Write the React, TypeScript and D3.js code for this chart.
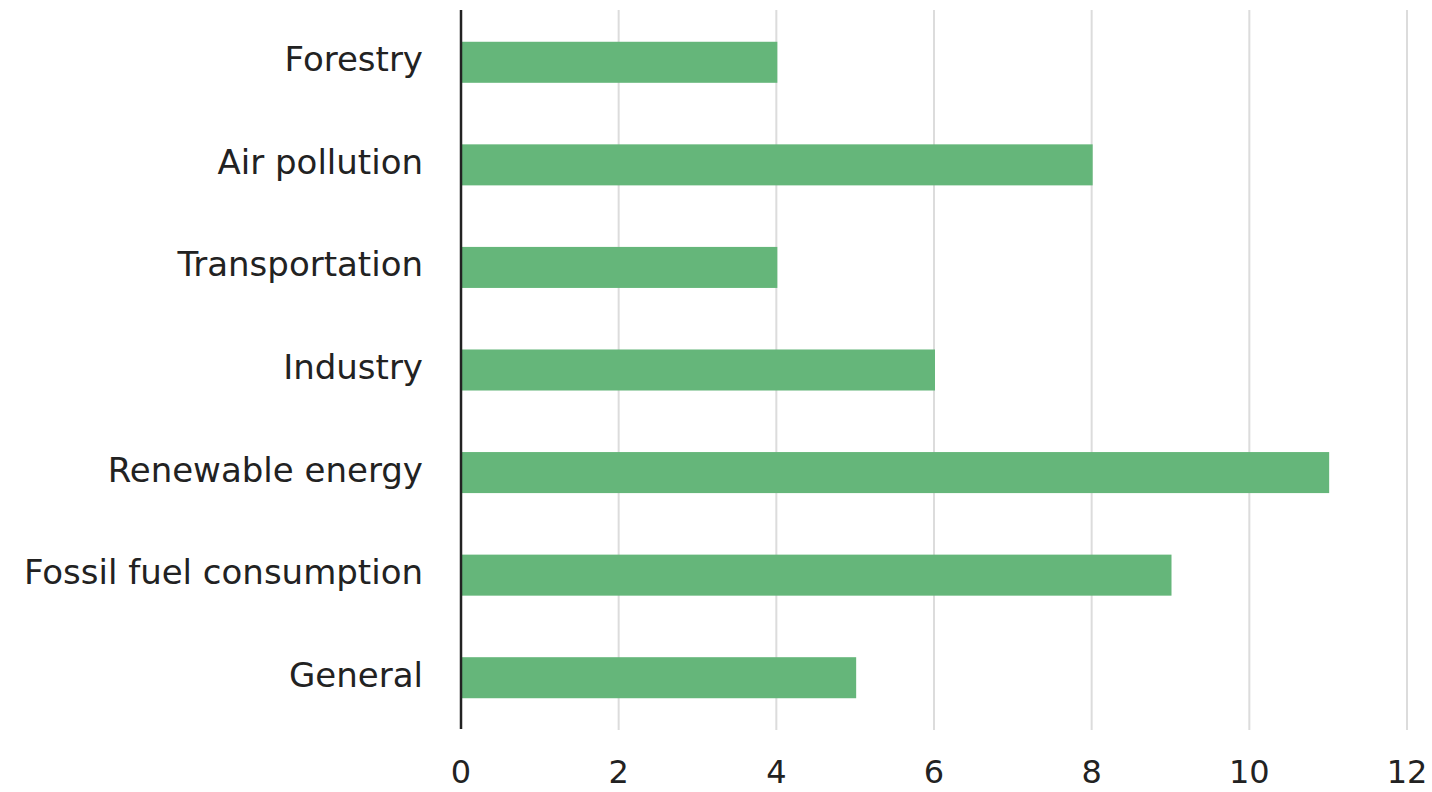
import React from "react";
import * as d3 from "d3";

const categories = [
  "Forestry",
  "Air pollution",
  "Transportation",
  "Industry",
  "Renewable energy",
  "Fossil fuel consumption",
  "General",
];
const values = [4, 8, 4, 6, 11, 9, 5];
const xTicks = [0, 2, 4, 6, 8, 10, 12];

export default function App() {
  const W = 1432;
  const H = 792;
  const x = d3.scaleLinear().domain([0, 12]).range([461, 1407]);
  const y = d3
    .scaleBand<string>()
    .domain(categories)
    .range([11, 729])
    .paddingInner(0.6)
    .paddingOuter(0.3);
  const font = "'DejaVu Sans', sans-serif";
  return (
    <svg
      width={W}
      height={H}
      style={{ position: "absolute", left: 0, top: 0, background: "#fff" }}
    >
      {xTicks.map((t) =>
        t === 0 ? null : (
          <line
            key={"g" + t}
            x1={x(t)}
            x2={x(t)}
            y1={10}
            y2={730}
            stroke="#dcdcdc"
            strokeWidth={2}
          />
        )
      )}
      {categories.map((c, i) => (
        <rect
          key={c}
          x={x(0)}
          y={y(c)}
          width={x(values[i]) - x(0) + 1}
          height={y.bandwidth()}
          fill="#65b67a"
        />
      ))}
      <line x1={x(0)} x2={x(0)} y1={10} y2={729} stroke="#222" strokeWidth={2.5} />
      {categories.map((c) => (
        <text
          key={"l" + c}
          x={423}
          y={(y(c) as number) + y.bandwidth() / 2 + 9}
          textAnchor="end"
          fontFamily={font}
          fontSize={34}
          fill="#222"
        >
          {c}
        </text>
      ))}
      {xTicks.map((t) => (
        <text
          key={"t" + t}
          x={x(t)}
          y={783}
          textAnchor="middle"
          fontFamily={font}
          fontSize={32}
          fill="#222"
        >
          {t}
        </text>
      ))}
    </svg>
  );
}
